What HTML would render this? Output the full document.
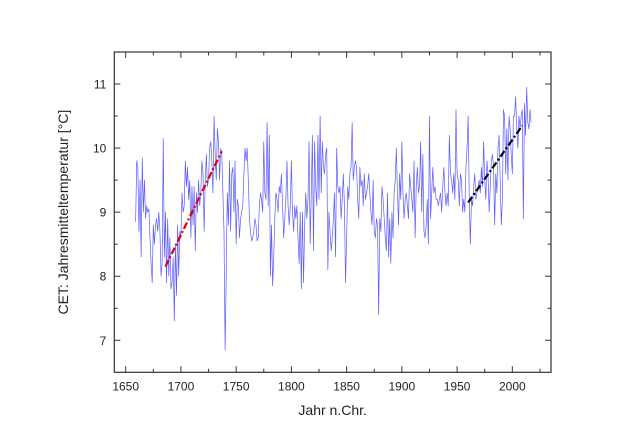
<!DOCTYPE html>
<html><head><meta charset="utf-8"><style>
html,body{margin:0;padding:0;background:#fff}
svg{display:block;font-family:"Liberation Sans",Arial,sans-serif}
</style></head><body>
<svg id="chart" width="640" height="447" viewBox="0 0 640 447" xmlns="http://www.w3.org/2000/svg"></svg>
<script>
const startYear = 1659;
const temps = [
8.85,9.8,9.7,8.7,9.5,8.3,9.85,9.0,9.5,8.9,
9.1,9.0,9.05,8.6,8.2,7.9,8.8,8.5,8.8,8.9,
8.7,9.0,8.7,8.0,8.2,10.15,8.3,9.0,7.9,8.9,
8.0,8.6,7.8,7.9,8.3,7.3,8.5,7.7,8.8,8.0,
8.7,8.6,9.3,9.0,9.1,9.8,9.4,9.7,9.2,9.5,
8.6,9.4,8.8,9.4,8.4,9.3,9.0,9.5,9.1,9.3,
9.8,9.6,8.7,9.5,9.9,9.4,9.5,10.0,10.1,9.8,
9.3,10.5,9.9,9.5,10.3,10.1,9.5,10.0,9.9,9.3,
8.7,6.85,8.0,9.3,8.8,9.8,8.7,9.6,9.7,9.0,
9.8,8.5,9.2,9.1,8.6,8.9,9.0,9.1,9.6,10.0,
9.8,10.0,9.5,8.9,8.7,8.55,8.6,8.7,8.9,8.8,
8.55,8.6,9.1,9.3,9.2,9.0,10.1,9.3,9.2,10.4,
9.1,10.2,8.0,8.8,7.85,8.3,8.9,9.3,9.2,9.0,
9.4,9.3,9.6,9.1,8.6,8.9,9.2,9.8,9.1,8.8,
9.1,9.8,9.0,8.7,9.1,8.9,9.1,8.6,8.2,9.0,
7.8,9.0,7.9,8.8,9.3,8.9,9.2,10.1,8.5,9.3,
10.2,8.4,10.1,9.4,9.1,10.2,9.2,10.5,9.3,10.1,
9.7,9.6,9.9,10.0,8.1,9.0,8.7,8.4,8.6,8.9,
9.3,8.3,10.0,9.4,9.3,9.4,8.9,9.2,9.6,9.1,
7.9,8.6,9.4,9.2,9.6,9.7,10.4,9.5,9.7,9.8,
9.7,9.2,8.9,9.7,9.4,9.5,9.1,9.6,9.2,9.3,
9.4,9.6,9.3,9.0,8.8,9.5,8.7,8.6,8.9,8.8,
7.4,8.9,8.7,9.4,9.2,8.9,8.6,8.4,9.3,8.3,
8.9,8.2,9.0,8.6,9.3,9.5,10.0,9.3,8.8,9.6,
9.2,10.1,9.3,8.9,9.2,9.3,9.1,8.9,9.6,9.4,
9.2,9.0,9.8,8.6,9.4,9.7,9.3,9.4,10.1,9.0,
9.9,8.7,8.6,8.8,9.2,8.5,10.5,8.9,9.3,9.7,
9.3,9.4,9.2,9.2,9.1,9.2,9.3,9.0,9.4,9.7,
9.3,9.1,9.3,9.1,10.2,9.6,9.5,9.3,9.6,9.2,
10.6,9.6,9.5,9.1,9.6,9.5,9.0,9.2,9.0,9.7,
10.0,10.5,9.2,8.5,9.2,9.1,9.4,9.6,9.2,9.3,
9.4,9.5,9.3,9.7,9.4,10.1,9.5,9.2,9.8,9.6,
9.0,9.4,9.8,9.9,9.7,8.8,9.6,9.3,10.0,10.2,
9.5,8.8,9.2,10.6,10.5,9.6,10.3,9.5,10.5,10.3,
9.9,9.6,10.5,10.5,10.8,10.3,10.0,10.5,10.3,10.5,
10.6,8.9,10.7,10.2,10.95,10.4,10.3,10.6,10.4
];
const xTicks = [1650,1700,1750,1800,1850,1900,1950,2000];
const yTicks = [7,8,9,10,11];
const redTrendYears = [1686,1737];
const redTrendTemps = [8.15,9.95];
const blackTrendYears = [1960,2009];
const blackTrendTemps = [9.15,10.35];

const NS='http://www.w3.org/2000/svg';
const svg=document.getElementById('chart');
const L=114.3,R=551,T=52,B=372.3;
const X0=1639.7,X1=2035.0,Y0=6.5,Y1=11.5;
const sx=v=>L+(v-X0)/(X1-X0)*(R-L);
const sy=v=>B-(v-Y0)/(Y1-Y0)*(B-T);
function mk(tag,attrs){const e=document.createElementNS(NS,tag);for(const k in attrs)e.setAttribute(k,attrs[k]);svg.appendChild(e);return e;}

let d='';
temps.forEach((t,i)=>{d+=(i?'L':'M')+sx(startYear+i).toFixed(2)+','+sy(t).toFixed(2);});
const line=mk('path',{d:d,fill:'none',stroke:'#4a4aff','stroke-width':0.7,'stroke-opacity':0.9,'stroke-linejoin':'round'});



const red=mk('line',{x1:sx(redTrendYears[0]),y1:sy(redTrendTemps[0]),x2:sx(redTrendYears[1]),y2:sy(redTrendTemps[1]),stroke:'#e00000','stroke-width':2.2,'stroke-dasharray':'7,2.5,2,2.5'});


const blk=mk('line',{x1:sx(blackTrendYears[0]),y1:sy(blackTrendTemps[0]),x2:sx(blackTrendYears[1]),y2:sy(blackTrendTemps[1]),stroke:'#000','stroke-width':2.2,'stroke-dasharray':'7,2.5,2,2.5'});



const frame=mk('rect',{x:L,y:T,width:R-L,height:B-T,fill:'none',stroke:'#333','stroke-width':1.2});



for(let v=1650;v<=2025;v+=25){
  const major=v%50===0, len=major?6:3.5, x=sx(v);
  mk('line',{x1:x,y1:B,x2:x,y2:B-len,stroke:'#333','stroke-width':1});
  mk('line',{x1:x,y1:T,x2:x,y2:T+len,stroke:'#333','stroke-width':1});
}
xTicks.forEach(v=>{
  const t=mk('text',{x:sx(v),y:B+18,'font-size':12,'text-anchor':'middle',fill:'#222'});
  t.textContent=v;
  
  
});
for(let v=7;v<=11.5;v+=0.5){
  const major=Math.abs(v-Math.round(v))<1e-6, len=major?6:3.5, y=sy(v);
  mk('line',{x1:L,y1:y,x2:L+len,y2:y,stroke:'#333','stroke-width':1});
  mk('line',{x1:R,y1:y,x2:R-len,y2:y,stroke:'#333','stroke-width':1});
}
yTicks.forEach(v=>{
  const t=mk('text',{x:L-8,y:sy(v)+4.5,'font-size':12,'text-anchor':'end',fill:'#222'});
  t.textContent=v;
  
  
});
const xt=mk('text',{x:(L+R)/2,y:415,'font-size':14,'text-anchor':'middle',fill:'#222'});
xt.textContent='Jahr n.Chr.';


const yt=mk('text',{x:0,y:0,'font-size':14,'text-anchor':'middle',fill:'#222',transform:'translate(68,'+((T+B)/2)+') rotate(-90)'});
yt.textContent='CET: Jahresmitteltemperatur [°C]';


</script>
</body></html>
